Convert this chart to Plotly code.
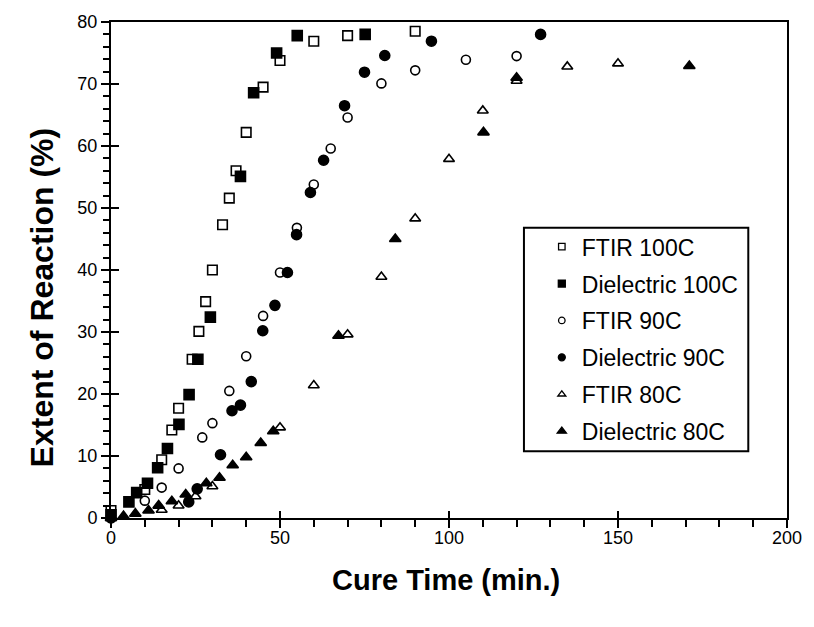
import plotly.graph_objects as go

# ---- data ----
ftir100_x = [0, 10, 15, 18, 20, 24, 26, 28, 30, 33, 35, 37, 40, 45, 50, 60, 70, 90]
ftir100_y = [1.2, 4.6, 9.4, 14.2, 17.7, 25.6, 30.1, 34.9, 40.0, 47.3, 51.6, 56.0, 62.2, 69.5, 73.8, 76.9, 77.8, 78.5]

diel100_x = [0, 5.3, 7.6, 10.8, 13.8, 16.7, 20.1, 23.1, 25.7, 29.4, 38.3, 42.2, 49.0, 55.1, 75.2]
diel100_y = [0.5, 2.6, 4.1, 5.6, 8.1, 11.2, 15.1, 19.9, 25.6, 32.4, 55.1, 68.6, 75.0, 77.8, 78.0]

ftir90_x = [0, 10, 15, 20, 27, 30, 35, 40, 45, 50, 55, 60, 65, 70, 80, 90, 105, 120]
ftir90_y = [0, 2.8, 4.9, 8.0, 13.0, 15.3, 20.5, 26.1, 32.6, 39.6, 46.8, 53.8, 59.6, 64.6, 70.1, 72.2, 73.9, 74.5]

diel90_x = [0, 23, 25.5, 32.4, 35.8, 38.3, 41.5, 44.9, 48.5, 52.2, 54.9, 59.0, 62.9, 69.1, 75.0, 81.0, 94.8, 127.1]
diel90_y = [0, 2.6, 4.7, 10.2, 17.3, 18.2, 22.0, 30.2, 34.3, 39.6, 45.7, 52.5, 57.7, 66.5, 71.9, 74.6, 76.9, 78.0]

ftir80_x = [0, 15, 20, 25, 30, 50, 60, 70, 80, 90, 100, 110, 120, 135, 150]
ftir80_y = [0, 1.3, 2.0, 3.5, 5.1, 14.6, 21.4, 29.6, 38.9, 48.3, 57.9, 65.7, 70.5, 72.8, 73.3]

diel80_x = [0, 3.7, 7.2, 11.1, 14.1, 18.0, 22.1, 28.2, 32.1, 36.0, 40.0, 44.3, 48.0, 67.3, 84.1, 110.2, 120.0, 171.1]
diel80_y = [0, 0.3, 0.7, 1.2, 2.0, 2.7, 3.8, 5.6, 6.5, 8.5, 9.8, 12.1, 14.0, 29.4, 45.0, 62.2, 71.0, 72.9]

series_names = ["FTIR 100C", "Dielectric 100C", "FTIR 90C", "Dielectric 90C", "FTIR 80C", "Dielectric 80C"]
x_tick_vals = [0, 50, 100, 150, 200]
y_tick_vals = [0, 10, 20, 30, 40, 50, 60, 70, 80]
x_title = "Cure Time (min.)"
y_title = "Extent of Reaction (%)"

series = [
    (ftir100_x, ftir100_y, "square-open", 9.5),
    (diel100_x, diel100_y, "square", 10),
    (ftir90_x, ftir90_y, "circle-open", 9),
    (diel90_x, diel90_y, "circle", 10),
    (ftir80_x, ftir80_y, "triangle-up-open", 9.5),
    (diel80_x, diel80_y, "triangle-up", 10),
]
legend_sizes = [6.5, 7, 6.5, 7, 7, 8]

# plot-area geometry in pixels (for paper-coordinate placement)
W, H = 814, 627
L, R, T, B = 111, 22, 20, 109
PW, PH = W - L - R, H - T - B


def px_to_paper(px, py):
    return (px - L) / PW, (H - B - py) / PH


fig = go.Figure()
for (xs, ys, sym, sz), name in zip(series, series_names):
    fig.add_trace(go.Scatter(
        x=xs, y=ys, mode="markers", name=name, showlegend=False,
        cliponaxis=False,
        marker=dict(symbol=sym, size=sz, color="black",
                    line=dict(color="black", width=1.6)),
    ))
# legend entries (no data, smaller symbols as in the reference legend)
for (xs, ys, sym, sz), name, lsz in zip(series, series_names, legend_sizes):
    fig.add_trace(go.Scatter(
        x=[None], y=[None], mode="markers", name=name, legendgroup=name,
        marker=dict(symbol=sym, size=lsz, color="black",
                    line=dict(color="black", width=1.3)),
    ))
# invisible trace to activate the overlay axes (inside parts of major ticks)
fig.add_trace(go.Scatter(x=[None], y=[None], xaxis="x2", yaxis="y2",
                         showlegend=False, hoverinfo="skip"))

FAM = "Liberation Sans, Arial, sans-serif"
axis_font = dict(family=FAM, size=18, color="black")

lx, ly = px_to_paper(545, 224)
fig.update_layout(
    width=W, height=H,
    margin=dict(l=L, r=R, t=T, b=B),
    paper_bgcolor="white", plot_bgcolor="white",
    font=axis_font,
    showlegend=True,
    legend=dict(
        x=lx, y=ly, xanchor="left", yanchor="top",
        bgcolor="rgba(0,0,0,0)", borderwidth=0,
        font=dict(family=FAM, size=23, color="black"),
        tracegroupgap=4, traceorder="grouped",
        itemsizing="trace",
    ),
    xaxis=dict(
        range=[0, 200], tickvals=x_tick_vals, ticktext=[str(v) for v in x_tick_vals],
        showgrid=False, zeroline=False,
        showline=True, linecolor="black", linewidth=2, mirror=True,
        ticks="outside", ticklen=8, tickwidth=2, tickcolor="black",
        minor=dict(dtick=10, tick0=0, ticks="outside", ticklen=7, tickwidth=1.5, tickcolor="black"),
        tickfont=axis_font, ticklabelstandoff=-6,
    ),
    yaxis=dict(
        range=[0, 80], tickvals=y_tick_vals, ticktext=[str(v) for v in y_tick_vals],
        showgrid=False, zeroline=False,
        showline=True, linecolor="black", linewidth=2, mirror=True,
        ticks="outside", ticklen=8, tickwidth=2, tickcolor="black",
        minor=dict(dtick=2, tick0=0, ticks="outside", ticklen=6, tickwidth=1.5, tickcolor="black"),
        tickfont=axis_font,
    ),
    xaxis2=dict(
        range=[0, 200], overlaying="x", anchor="y", side="bottom",
        tickvals=x_tick_vals, showticklabels=False, showgrid=False, zeroline=False,
        showline=False, ticks="inside", ticklen=7, tickwidth=2, tickcolor="black",
    ),
    yaxis2=dict(
        range=[0, 80], overlaying="y", anchor="x", side="left",
        tickvals=y_tick_vals, showticklabels=False, showgrid=False, zeroline=False,
        showline=False, ticks="inside", ticklen=8, tickwidth=2, tickcolor="black",
    ),
)

# axis titles
tx, ty = px_to_paper(448, 580)
fig.add_annotation(text=x_title, xref="paper", yref="paper", x=tx, y=ty,
                   xanchor="center", yanchor="middle", showarrow=False,
                   font=dict(family=FAM, size=29, color="black", weight="bold"))
tx, ty = px_to_paper(41, 297)
fig.add_annotation(text=y_title, xref="paper", yref="paper", x=tx, y=ty,
                   xanchor="center", yanchor="middle", showarrow=False, textangle=-90,
                   font=dict(family=FAM, size=32, color="black", weight="bold"))

# legend frame
x0, y0 = px_to_paper(527, 451)
x1, y1 = px_to_paper(753, 226.5)
fig.add_shape(type="rect", xref="paper", yref="paper", x0=x0, x1=x1, y0=y0, y1=y1,
              line=dict(color="black", width=2), fillcolor="rgba(0,0,0,0)", layer="above")

fig.write_html("out.html", config={"displayModeBar": False},
               post_script="document.body.style.margin='0';")
